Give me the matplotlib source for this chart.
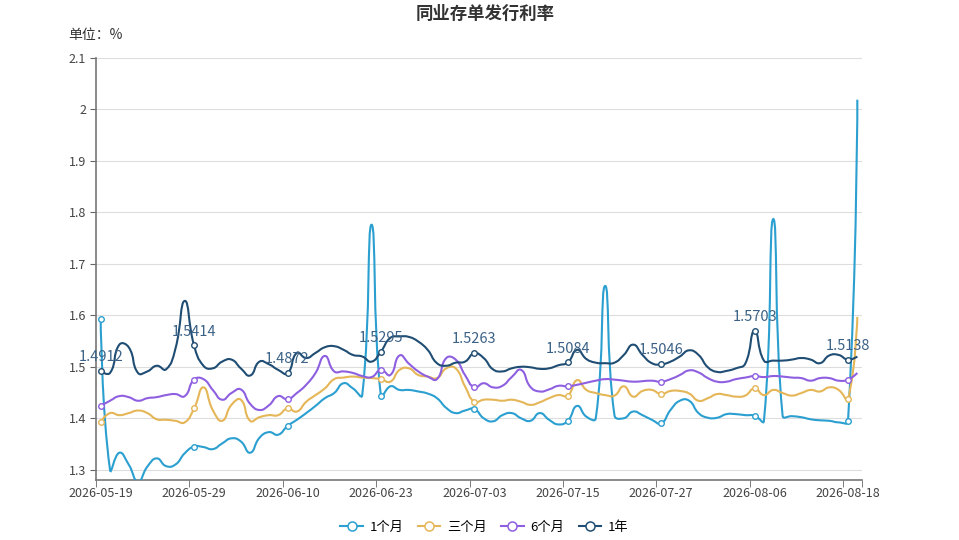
import numpy as np
import matplotlib
matplotlib.use("Agg")
import matplotlib.pyplot as plt
from matplotlib.path import Path
from matplotlib.patches import PathPatch
from matplotlib.lines import Line2D

plt.rcParams['font.family'] = ['Noto Sans CJK SC', 'DejaVu Sans']

# 数据
tick_labels = ["2026-05-19", "2026-05-29", "2026-06-10", "2026-06-23", "2026-07-03",
               "2026-07-15", "2026-07-27", "2026-08-06", "2026-08-18"]

m1 = [1.593, 1.300, 1.333, 1.310, 1.277, 1.306, 1.322, 1.307, 1.310, 1.332,
      1.345, 1.344, 1.340, 1.351, 1.361, 1.355, 1.333, 1.362, 1.373, 1.368,
      1.385, 1.397, 1.410, 1.424, 1.439, 1.449, 1.468, 1.458, 1.445, 1.776,
      1.443, 1.462, 1.455, 1.455, 1.452, 1.448, 1.439, 1.420, 1.410, 1.415,
      1.418, 1.400, 1.394, 1.406, 1.410, 1.400, 1.395, 1.410, 1.397, 1.388,
      1.395, 1.424, 1.403, 1.400, 1.657, 1.406, 1.400, 1.413, 1.406, 1.397,
      1.390, 1.416, 1.434, 1.434, 1.410, 1.401, 1.401, 1.408, 1.408, 1.406,
      1.405, 1.395, 1.787, 1.405, 1.404, 1.402, 1.398, 1.396, 1.395, 1.392,
      1.394, 2.019]

m3 = [1.393, 1.410, 1.406, 1.410, 1.415, 1.410, 1.398, 1.397, 1.395, 1.392,
      1.419, 1.460, 1.416, 1.395, 1.426, 1.436, 1.395, 1.402, 1.406, 1.406,
      1.419, 1.413, 1.432, 1.445, 1.458, 1.476, 1.479, 1.481, 1.479, 1.478,
      1.476, 1.471, 1.494, 1.497, 1.484, 1.481, 1.478, 1.497, 1.497, 1.462,
      1.432, 1.436, 1.436, 1.434, 1.436, 1.432, 1.426, 1.431, 1.439, 1.445,
      1.444, 1.474, 1.455, 1.449, 1.445, 1.444, 1.462, 1.442, 1.453, 1.455,
      1.447, 1.453, 1.453, 1.448, 1.434, 1.439, 1.447, 1.445, 1.442, 1.444,
      1.458, 1.445, 1.455, 1.449, 1.444, 1.449, 1.455, 1.452, 1.460, 1.455,
      1.437, 1.597]

m6 = [1.424, 1.434, 1.443, 1.441, 1.434, 1.439, 1.441, 1.445, 1.447, 1.443,
      1.475, 1.476, 1.455, 1.436, 1.449, 1.456, 1.428, 1.416, 1.425, 1.443,
      1.437, 1.449, 1.465, 1.488, 1.521, 1.491, 1.491, 1.488, 1.482, 1.480,
      1.494, 1.484, 1.522, 1.506, 1.491, 1.481, 1.476, 1.517, 1.514, 1.484,
      1.460, 1.468, 1.460, 1.463, 1.480, 1.494, 1.461, 1.452, 1.456, 1.463,
      1.462, 1.465, 1.469, 1.473, 1.476, 1.475, 1.473, 1.471, 1.472, 1.473,
      1.471, 1.476, 1.484, 1.493, 1.489, 1.478, 1.471, 1.471, 1.476, 1.479,
      1.482, 1.480, 1.482, 1.481, 1.479, 1.478, 1.473, 1.478, 1.478, 1.473,
      1.475, 1.488]

y1 = [1.4912, 1.488, 1.543, 1.538, 1.488, 1.491, 1.502, 1.495, 1.535, 1.628,
      1.5414, 1.502, 1.497, 1.510, 1.514, 1.497, 1.483, 1.510, 1.505, 1.494,
      1.4872, 1.527, 1.517, 1.527, 1.538, 1.540, 1.533, 1.523, 1.520, 1.510,
      1.5295, 1.556, 1.559, 1.558, 1.549, 1.533, 1.507, 1.502, 1.508, 1.510,
      1.5263, 1.517, 1.495, 1.491, 1.497, 1.500, 1.499, 1.496, 1.497, 1.503,
      1.5084, 1.533, 1.515, 1.508, 1.507, 1.508, 1.523, 1.543, 1.523, 1.507,
      1.5046, 1.510, 1.520, 1.532, 1.523, 1.499, 1.490, 1.492, 1.497, 1.506,
      1.5703, 1.512, 1.512, 1.512, 1.514, 1.517, 1.514, 1.507, 1.522, 1.523,
      1.5138, 1.520]

series = [("1个月", m1, "#2a9fd0"),
          ("三个月", m3, "#e5b657"),
          ("6个月", m6, "#8e5fe0"),
          ("1年", y1, "#1f4d73")]


def smooth_path(xs, ys, sx, sy, smooth=0.5):
    # 类似 echarts 的平滑曲线
    px = np.asarray(xs, float) * sx
    py = np.asarray(ys, float) * sy
    n = len(px)
    cp_in = np.zeros((n, 2))
    cp_out = np.zeros((n, 2))
    for i in range(n):
        if i == 0 or i == n - 1:
            cp_in[i] = cp_out[i] = (px[i], py[i])
            continue
        vx = px[i + 1] - px[i - 1]
        vy = py[i + 1] - py[i - 1]
        d0 = np.hypot(px[i] - px[i - 1], py[i] - py[i - 1])
        d1 = np.hypot(px[i + 1] - px[i], py[i + 1] - py[i])
        s = d0 + d1
        d0, d1 = d0 / s, d1 / s
        cp_in[i] = (px[i] - vx * smooth * d0, py[i] - vy * smooth * d0)
        cp_out[i] = (px[i] + vx * smooth * d1, py[i] + vy * smooth * d1)
    verts = [(px[0], py[0])]
    codes = [Path.MOVETO]
    for i in range(n - 1):
        verts += [tuple(cp_out[i]), tuple(cp_in[i + 1]), (px[i + 1], py[i + 1])]
        codes += [Path.CURVE4] * 3
    verts = np.array(verts)
    verts[:, 0] /= sx
    verts[:, 1] /= sy
    return Path(verts, codes)


fig = plt.figure(figsize=(9.59, 5.4), dpi=100)
ax = fig.add_axes([96 / 959, 60 / 540, 766 / 959, 422 / 540])

x = np.arange(len(m1))
mark_idx = np.arange(0, len(m1), 10)

for name, vals, color in series:
    p = smooth_path(x, vals, 9.33, 514)
    ax.add_patch(PathPatch(p, fill=False, edgecolor=color, lw=1.5, zorder=3))
    ax.plot(mark_idx, np.array(vals)[mark_idx], 'o', ms=4, mfc='white',
            mec=color, mew=1.0, zorder=4, linestyle='none')

# 1年 标签
for i in mark_idx:
    ax.annotate(f"{y1[i]:.4f}", (i, y1[i]), xytext=(0, 5), textcoords='offset points',
                ha='center', va='bottom', fontsize=10.5, color='#3b6286', zorder=5)

ax.set_xlim(-0.5, len(m1) - 0.5)
ax.set_ylim(1.28, 2.1)

ax.set_xticks(mark_idx)
ax.set_xticklabels(tick_labels, fontsize=9, color='#444444')
ax.set_xticks(list(np.arange(-0.5, len(m1) - 1, 10)) + [len(m1) - 0.5], minor=True)
ax.tick_params(axis='x', which='major', length=0, pad=5)
ax.tick_params(axis='x', which='minor', length=5, color='#666666')

yt = [1.3, 1.4, 1.5, 1.6, 1.7, 1.8, 1.9, 2.0, 2.1]
ax.set_yticks(yt)
ax.set_yticklabels(["1.3", "1.4", "1.5", "1.6", "1.7", "1.8", "1.9", "2", "2.1"],
                   fontsize=9, color='#444444')
ax.tick_params(axis='y', length=4, color='#666666', pad=3)
ax.grid(axis='y', color='#dddddd', lw=0.8)
ax.set_axisbelow(True)

for s in ['top', 'right']:
    ax.spines[s].set_visible(False)
for s in ['left', 'bottom']:
    ax.spines[s].set_color('#777777')
    ax.spines[s].set_linewidth(1.2)

fig.text(0.506, 0.974, "同业存单发行利率", ha='center', va='center',
         fontsize=12.5, fontweight='bold', color='#333333')
fig.text(0.071, 0.935, "单位：%", ha='left', va='center', fontsize=10, color='#333333')

handles = [Line2D([0], [0], color=c, lw=1.5, marker='o', ms=6.5, mfc='white', mec=c, mew=1.1)
           for _, _, c in series]
fig.legend(handles, [n for n, _, _ in series], loc='center', bbox_to_anchor=(0.505, 0.023),
           ncol=4, frameon=False, fontsize=9.5, handlelength=1.7, columnspacing=1.1,
           handletextpad=0.5)

fig.savefig("out.png", dpi=100)
